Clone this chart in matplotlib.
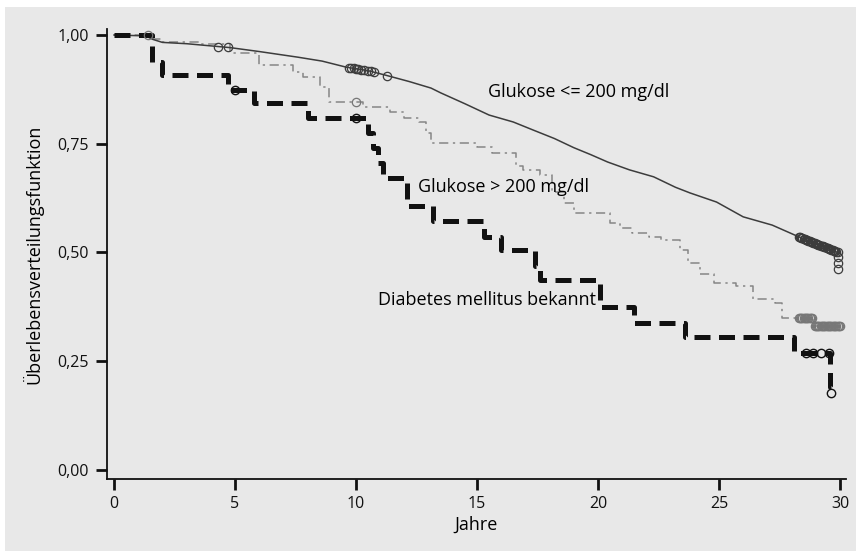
import numpy as np
import matplotlib
matplotlib.use("Agg")
import matplotlib.pyplot as plt
from matplotlib.patches import Rectangle

plt.rcParams['font.family'] = ['Open Sans', 'DejaVu Sans']

# Glukose <= 200 mg/dl (many small steps, drawn as a line)
t_low = [0, 1.3, 1.6, 2.0, 3.0, 4.0, 4.8, 6.0, 7.6, 8.6, 9.6, 10.5, 11.2, 12.2, 13.1,
         13.5, 14.5, 15.5, 16.5, 17.3, 18.2, 19.0, 19.7, 20.4, 21.3, 22.3, 23.2, 23.8,
         24.9, 26.0, 27.2, 28.3, 29.0, 29.6, 29.9]
s_low = [1.0, 0.998, 0.99, 0.983, 0.98, 0.975, 0.971, 0.962, 0.949, 0.94, 0.926, 0.918,
         0.908, 0.893, 0.878, 0.867, 0.842, 0.816, 0.80, 0.782, 0.762, 0.741, 0.725,
         0.708, 0.69, 0.674, 0.65, 0.637, 0.616, 0.582, 0.563, 0.536, 0.52, 0.508, 0.50]
cens_low = [4.3, 4.7, 9.7, 9.8, 9.9, 10.0, 10.1, 10.2, 10.35, 10.5, 10.6, 10.75, 11.3,
            28.3, 28.35, 28.4, 28.45, 28.5, 28.55, 28.6, 28.65, 28.7, 28.75, 28.8, 28.85,
            28.9, 28.95, 29.0, 29.05, 29.1, 29.15, 29.2, 29.25, 29.3, 29.35, 29.4, 29.45,
            29.5, 29.55, 29.6, 29.65, 29.7, 29.75, 29.8, 29.85, 29.9]
cens_low_end = [0.49, 0.475, 0.462]

# Glukose > 200 mg/dl
t_high = [0, 1.6, 2.0, 3.5, 4.8, 6.0, 7.4, 7.8, 8.5, 8.9, 10.3, 11.4, 12.0, 12.6, 12.9,
          13.1, 15.0, 15.6, 16.6, 16.9, 17.6, 18.1, 18.6, 19.0, 20.5, 20.9, 21.4, 22.1,
          22.6, 23.4, 23.7, 24.2, 24.8, 25.7, 26.4, 27.3, 27.6, 28.9, 30.0]
s_high = [1.0, 0.99, 0.984, 0.979, 0.958, 0.93, 0.915, 0.903, 0.88, 0.847, 0.834, 0.822,
          0.81, 0.80, 0.775, 0.752, 0.742, 0.728, 0.70, 0.69, 0.678, 0.64, 0.614, 0.59,
          0.568, 0.557, 0.545, 0.535, 0.528, 0.505, 0.475, 0.45, 0.43, 0.424, 0.394,
          0.385, 0.35, 0.33, 0.33]
cens_high = [1.4, 10.0, 28.3, 28.35, 28.4, 28.45, 28.5, 28.55, 28.6, 28.65, 28.7, 28.75,
             28.8, 28.85, 28.95, 29.0, 29.05, 29.1, 29.15, 29.2, 29.25, 29.3, 29.35, 29.4,
             29.45, 29.5, 29.55, 29.6, 29.65, 29.7, 29.75, 29.8, 29.85, 29.9, 29.95, 30.0]

# Diabetes mellitus bekannt
t_dm = [0, 1.55, 2.0, 4.7, 5.8, 8.0, 10.5, 10.7, 10.9, 11.1, 12.1, 13.2, 15.3, 16.0,
        17.4, 17.6, 20.1, 21.5, 23.6, 28.1, 29.6, 29.65]
s_dm = [1.0, 0.938, 0.908, 0.874, 0.843, 0.809, 0.775, 0.74, 0.705, 0.672, 0.608, 0.573,
        0.535, 0.505, 0.47, 0.436, 0.374, 0.337, 0.305, 0.27, 0.19, 0.19]
cens_dm = [5.0, 10.0, 28.6, 28.9, 29.2, 29.55]
cens_dm_end = [0.178]


def step_at(t, s, times):
    t = np.asarray(t)
    s = np.asarray(s)
    idx = np.searchsorted(t, times, side='right') - 1
    return s[idx]


fig = plt.figure(figsize=(8.56, 5.51), dpi=100)
fig.patches.append(Rectangle((5 / 856, 0), 851 / 856, 544 / 551,
                             transform=fig.transFigure, facecolor='#e8e8e8',
                             edgecolor='none', zorder=-10))
ax = fig.add_axes([107 / 856, 72 / 551, 739 / 856, 450 / 551])
ax.set_facecolor('none')

c_low = '#3c3c3c'
c_high = '#858585'
c_dm = '#111111'

ax.plot(t_low, s_low, color=c_low, lw=1.1, zorder=3)
ax.plot(cens_low, np.interp(cens_low, t_low, s_low), 'o', ms=6, mfc='none',
        mec=c_low, mew=0.9, zorder=4)
ax.plot([t_low[-1]] * len(cens_low_end), cens_low_end, 'o', ms=6, mfc='none',
        mec=c_low, mew=0.9, zorder=4)

ax.step(t_high, s_high, where='post', color=c_high, lw=1.1,
        dashes=(6, 3, 1.5, 3), zorder=2)
ax.plot(cens_high, step_at(t_high, s_high, cens_high), 'o', ms=6, mfc='none',
        mec='#777777', mew=0.9, zorder=4)

ax.step(t_dm, s_dm, where='post', color=c_dm, lw=3.6, dashes=(3.2, 1.7), zorder=3)
ax.plot(cens_dm, step_at(t_dm, s_dm, cens_dm), 'o', ms=6, mfc='none',
        mec=c_dm, mew=1.0, zorder=4)
ax.plot([t_dm[-1]] * len(cens_dm_end), cens_dm_end, 'o', ms=6, mfc='none',
        mec=c_dm, mew=1.0, zorder=4)

ax.text(15.45, 0.869, 'Glukose <= 200 mg/dl', fontsize=13, va='center', ha='left')
ax.text(12.56, 0.651, 'Glukose > 200 mg/dl', fontsize=13, va='center', ha='left')
ax.text(10.9, 0.391, 'Diabetes mellitus bekannt', fontsize=13, va='center', ha='left')

ax.set_xlim(-0.29, 30.25)
ax.set_ylim(-0.0207, 1.0138)
ax.set_xticks([0, 5, 10, 15, 20, 25, 30])
yt = [0, 0.25, 0.5, 0.75, 1.0]
ax.set_yticks(yt)
ax.set_yticklabels([f'{v:.2f}'.replace('.', ',') for v in yt])
for side in ['top', 'right']:
    ax.spines[side].set_visible(False)
for side in ['left', 'bottom']:
    ax.spines[side].set_linewidth(1.3)
    ax.spines[side].set_color('#111111')
ax.tick_params(axis='both', direction='out', length=8, width=2, colors='#111111',
               labelsize=11.5, pad=4)
ax.tick_params(axis='y', pad=5)
ax.set_xlabel('Jahre', fontsize=13, labelpad=3)
ax.set_ylabel('Überlebensverteilungsfunktion', fontsize=13, labelpad=10)

fig.savefig('out.png', dpi=100)
